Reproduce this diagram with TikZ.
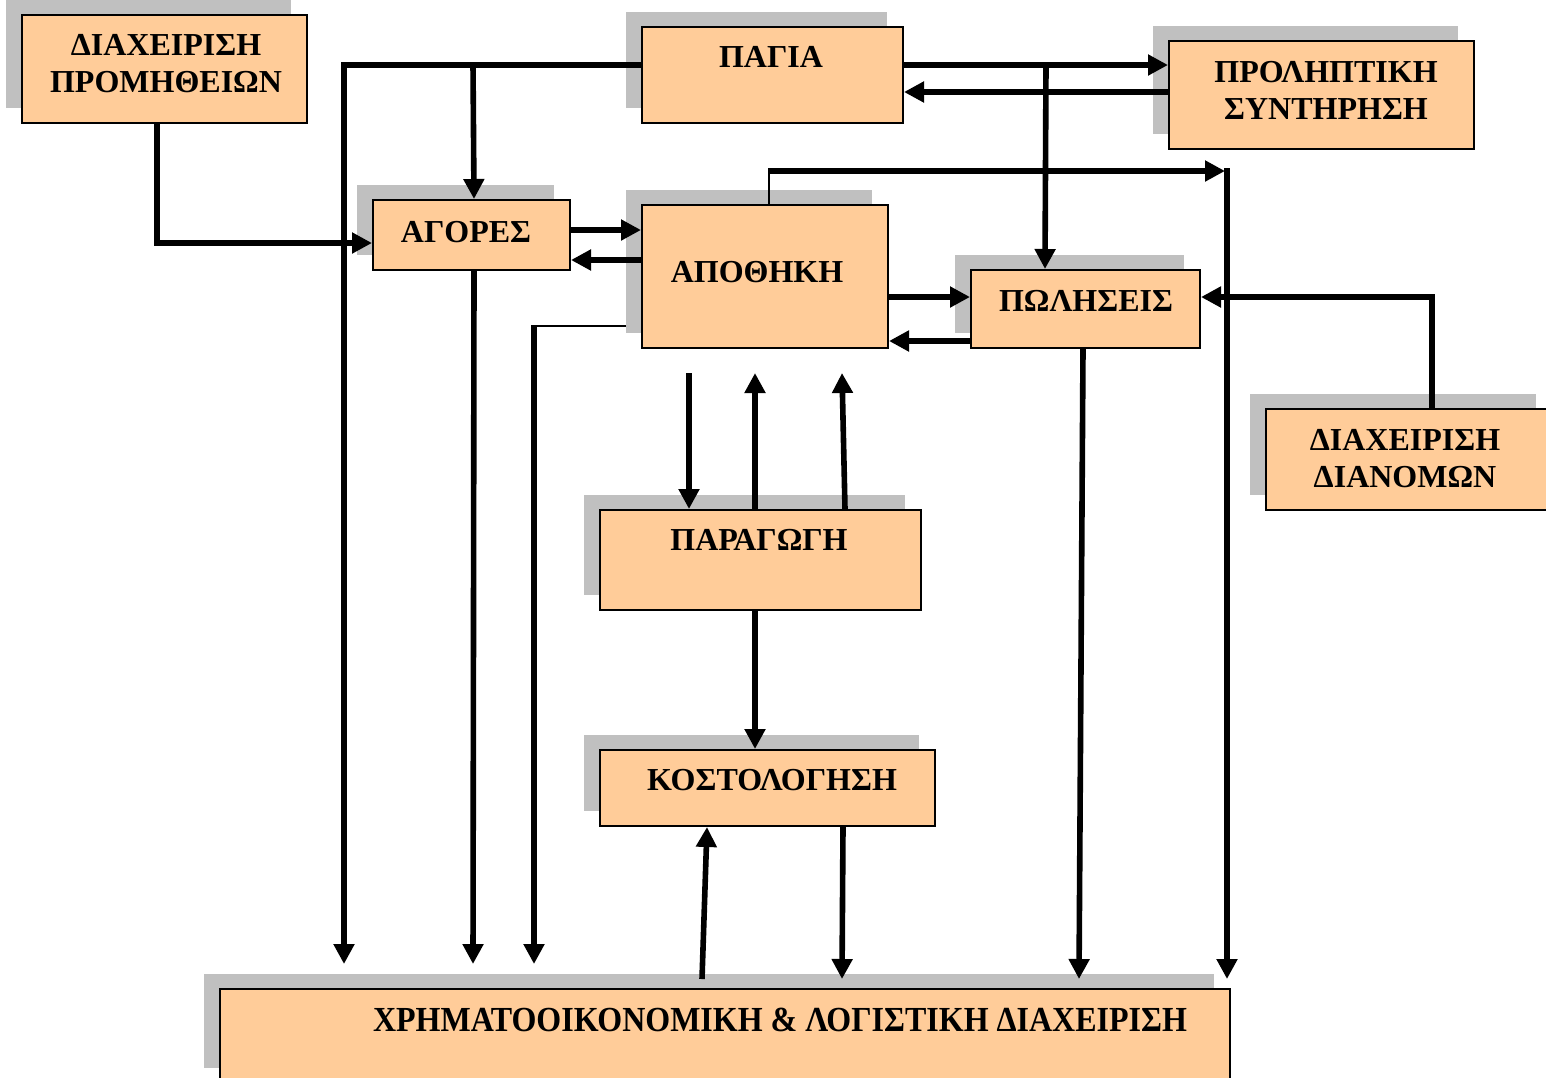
\documentclass[tikz,border=0pt]{standalone}
\usepackage{fontspec}
\setmainfont{Liberation Serif}
\usetikzlibrary{arrows.meta,calc,shadows}
\definecolor{boxfill}{HTML}{FFCC99}
\definecolor{shadowgray}{HTML}{C0C0C0}
\begin{document}
\begin{tikzpicture}[x=0.5pt,y=-0.5pt,
  box/.style={draw=black, line width=1pt, fill=boxfill, inner sep=0pt,
     general shadow={fill=shadowgray, shadow xshift=-8pt, shadow yshift=7.5pt}},
  lbl/.style={font=\bfseries\fontsize{16}{18.5}\selectfont, align=center, inner sep=0pt},
  conn/.style={line width=2.8pt},
  arr/.style={conn, -{Triangle[length=10pt,width=10pt]}},
  thinline/.style={line width=1pt}]
\useasboundingbox (0,0) rectangle (1546,1077);
\fill[white] (0,0) rectangle (1546,1077);
\clip (0,0) rectangle (1546,1077);

% boxes
\node[box, minimum width=142.5pt, minimum height=54pt] (prom) at (164.5,69) {};
\node[box, minimum width=130.5pt, minimum height=48pt] (pagia) at (772.5,75) {};
\node[box, minimum width=152.5pt, minimum height=54pt] (prol) at (1321.5,95) {};
\node[box, minimum width=98.5pt, minimum height=35pt] (agor) at (471.5,235) {};
\node[box, minimum width=123pt, minimum height=71.5pt] (apoth) at (765,276.5) {};
\node[box, minimum width=114.5pt, minimum height=39pt] (pol) at (1085.5,309) {};
\node[box, minimum width=143pt, minimum height=50.5pt] (dian) at (1409,459.5) {};
\node[box, minimum width=160.5pt, minimum height=50pt] (parag) at (760.5,560) {};
\node[box, minimum width=167.5pt, minimum height=38pt] (kost) at (767.5,788) {};
\node[box, minimum width=505pt, minimum height=47pt] (xrim) at (725,1036) {};

% labels
\node[lbl] (tprom) at (166,64) {ΔΙΑΧΕΙΡΙΣΗ\\ΠΡΟΜΗΘΕΙΩΝ};
\node[lbl] (tpagia) at (771,57) {ΠΑΓΙΑ};
\node[lbl] (tprol) at (1326,90) {ΠΡΟΛΗΠΤΙΚΗ\\ΣΥΝΤΗΡΗΣΗ};
\node[lbl] (tagor) at (466,232) {ΑΓΟΡΕΣ};
\node[lbl] (tapoth) at (757,272) {ΑΠΟΘΗΚΗ};
\node[lbl] (tpol) at (1086,301) {ΠΩΛΗΣΕΙΣ};
\node[lbl] (tdian) at (1405,459) {ΔΙΑΧΕΙΡΙΣΗ\\ΔΙΑΝΟΜΩΝ};
\node[lbl] (tparag) at (759,540) {ΠΑΡΑΓΩΓΗ};
\node[lbl] (tkost) at (772,780) {ΚΟΣΤΟΛΟΓΗΣΗ};
\node[lbl, yscale=1.1] (txrim) at (780,1020) {ΧΡΗΜΑΤΟΟΙΚΟΝΟΜΙΚΗ \& ΛΟΓΙΣΤΙΚΗ ΔΙΑΧΕΙΡΙΣΗ};

% connectors
\draw[arr] ($(prom.south)+(-7.5,0)$) |- ($(agor.west)+(0,8)$);
\draw[arr] ($(pagia.west)+(0,-10)$) -| ($(xrim.north west)+(125,-24)$);
\draw[arr] ($(pagia.west)+(-168,-10)$) -- ($(agor.north)+(2.5,0)$);
\draw[arr] ($(agor.south)+(2.5,0)$) -- ($(xrim.north west)+(254,-24)$);
\draw[arr] ($(agor.east)+(0,-5)$) -- ($(apoth.west)+(0,-46.5)$);
\draw[arr] ($(apoth.west)+(0,-16.5)$) -- ($(agor.east)+(0,25)$);
\draw[thinline] ($(apoth.west)+(-15,49.5)$) -- ($(apoth.west)+(-108,49.5)$);
\draw[arr] ($(apoth.west)+(-107,48.5)$) -- ($(xrim.north west)+(315,-24)$);
\draw[thinline] ($(apoth.north)+(4,0)$) -- ($(apoth.north)+(4,-34)$);
\draw[arr] ($(apoth.north)+(3,-33)$) -- ($(xrim.north east)+(-6,-817)$);
\draw[arr] ($(xrim.north east)+(-4,-820)$) -- ($(xrim.north east)+(-4,-9)$);
\draw[arr] ($(pagia.east)+(0,-10)$) -- ($(prol.west)+(0,-30)$);
\draw[arr] ($(prol.west)+(0,-3)$) -- ($(pagia.east)+(0,17)$);
\draw[arr] ($(pagia.east)+(142,-10)$) -- ($(pol.north)+(-40.5,0)$);
\draw[arr] ($(apoth.east)+(0,20.5)$) -- ($(pol.west)+(0,-12)$);
\draw[arr] ($(pol.west)+(0,32)$) -- ($(apoth.east)+(0,64.5)$);
\draw[arr] ($(dian.north)+(23,0)$) |- ($(pol.east)+(0,-12)$);
\draw[arr] ($(pol.south)+(-2.5,0)$) -- ($(xrim.north west)+(860,-9)$);
\draw[arr] ($(apoth.south)+(-76,24)$) -- ($(parag.north)+(-71.5,0)$);
\draw[arr] ($(parag.north)+(-5.5,0)$) -- ($(apoth.south)+(-10,24)$);
\draw[arr] ($(parag.north)+(84.5,0)$) -- ($(apoth.south)+(77,24)$);
\draw[arr] ($(parag.south)+(-5.5,0)$) -- ($(kost.north)+(-12.5,0)$);
\draw[arr] ($(xrim.north west)+(483,-9)$) -- ($(kost.south)+(-60.5,0)$);
\draw[arr] ($(kost.south)+(75.5,0)$) -- ($(xrim.north west)+(623,-9)$);
\end{tikzpicture}
\end{document}
